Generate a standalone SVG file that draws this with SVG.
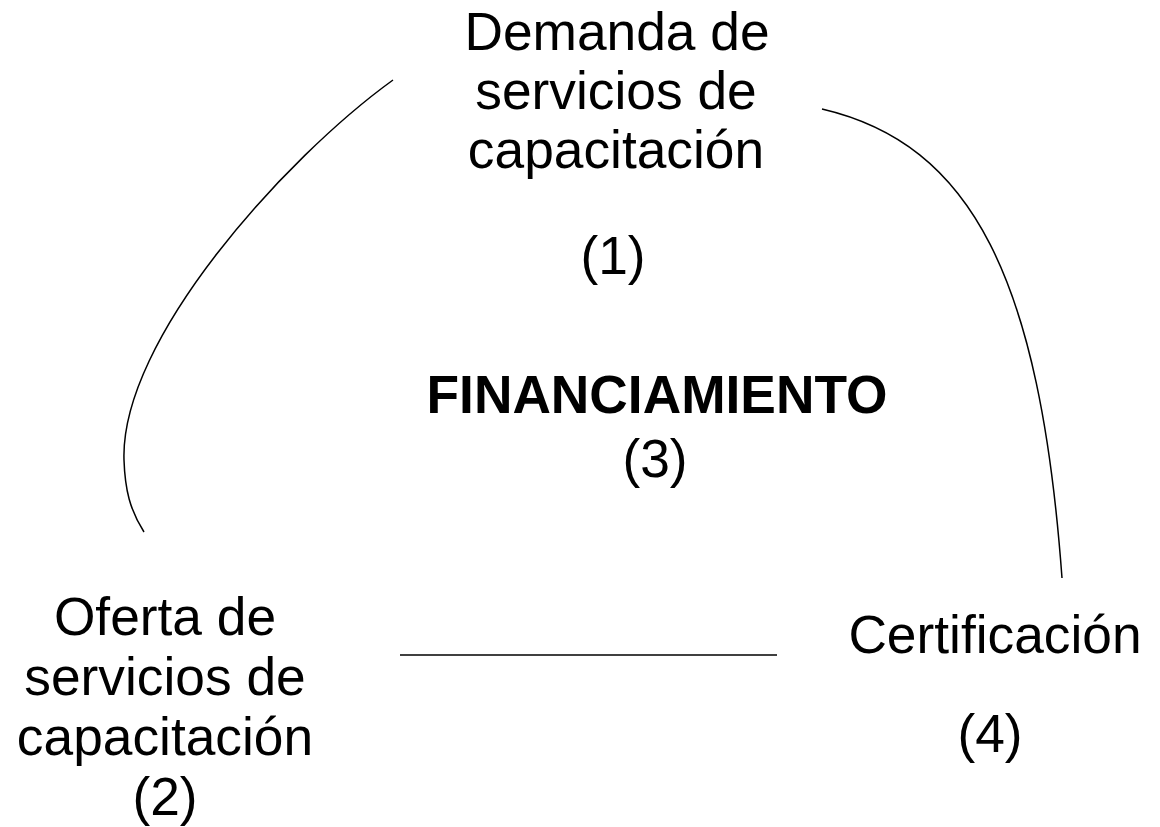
<svg xmlns="http://www.w3.org/2000/svg" width="1160" height="827" viewBox="0 0 1160 827">
<style>
.t{font-family:"Liberation Sans",Arial,sans-serif;font-size:53.3px;fill:#000;text-anchor:middle}
.b{font-weight:bold}
.c{fill:none;stroke:#000;stroke-width:1.5}
</style>
<rect width="1160" height="827" fill="#fff"/>
<g id="connectors">
<path class="c" d="M393,80 C285,158 120,340 124,460 C125,490 130,510 144,532"/>
<path class="c" d="M822,109 C972,144 1040,278 1062,578"/>
<line class="c" x1="400" y1="655" x2="777" y2="655"/>
</g>
<g id="n1">
<text class="t" x="617" y="50">Demanda de</text>
<text class="t" x="616" y="109">servicios de</text>
<text class="t" x="616" y="168">capacitación</text>
<text class="t" x="613" y="274">(1)</text>
</g>
<g id="n3">
<text class="t b" x="657" y="413">FINANCIAMIENTO</text>
<text class="t" x="655" y="477">(3)</text>
</g>
<g id="n2">
<text class="t" x="165" y="635">Oferta de</text>
<text class="t" x="165" y="695">servicios de</text>
<text class="t" x="165" y="755">capacitación</text>
<text class="t" x="165" y="815">(2)</text>
</g>
<g id="n4">
<text class="t" x="995" y="653">Certificación</text>
<text class="t" x="990" y="752">(4)</text>
</g>
</svg>
